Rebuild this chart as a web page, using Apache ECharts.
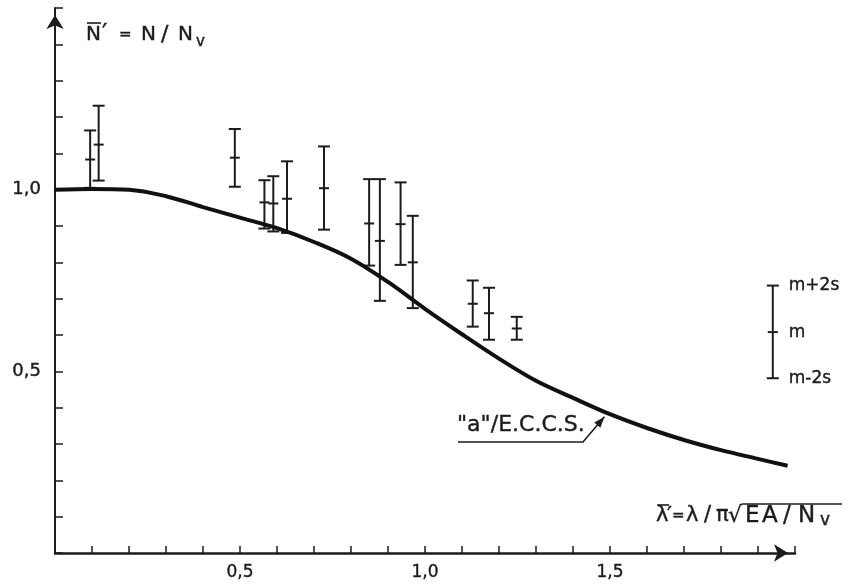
<!DOCTYPE html>
<html>
<head>
<meta charset="utf-8">
<script src="https://cdn.jsdelivr.net/npm/echarts@6/dist/echarts.min.js"></script>
<style>
html, body { margin: 0; padding: 0; background: #fff; }
#chart { width: 851px; height: 587px; }
</style>
</head>
<body>
<div id="chart"></div>
<script>
// curve "a"/E.C.C.S.
var curveX = [0, 0.1, 0.2, 0.3, 0.4, 0.5, 0.6, 0.7, 0.8, 0.9, 1.0, 1.1, 1.2, 1.3, 1.4, 1.5, 1.6, 1.7, 1.8, 1.9, 1.98];
var curveY = [1.0, 1.002, 1.0, 0.982, 0.952, 0.923, 0.894, 0.856, 0.81, 0.746, 0.672, 0.602, 0.535, 0.474, 0.427, 0.382, 0.344, 0.311, 0.283, 0.259, 0.240];

// test results: m-2s, m, m+2s
var barX    = [0.095, 0.118, 0.486, 0.566, 0.590, 0.627, 0.727, 0.849, 0.878, 0.934, 0.967, 1.129, 1.173, 1.248];
var barLow  = [1.005, 1.025, 1.008, 0.893, 0.885, 0.881, 0.890, 0.791, 0.694, 0.793, 0.674, 0.623, 0.587, 0.587];
var barMid  = [1.083, 1.124, 1.088, 0.965, 0.962, 0.975, 1.004, 0.907, 0.859, 0.905, 0.800, 0.686, 0.660, 0.618];
var barHigh = [1.163, 1.231, 1.167, 1.026, 1.037, 1.078, 1.119, 1.029, 1.029, 1.020, 0.928, 0.750, 0.730, 0.650];

// key on the right
var keyBar = [1.94, 0.481, 0.608, 0.736];
var keyLabels = ['m-2s', 'm', 'm+2s'];

var xTickLabels = {5: '0,5', 10: '1,0', 15: '1,5'};
var yTickLabels = {5: '0,5', 10: '1,0'};
var curveName = '"a"/E.C.C.S.';
var arrowAt = [1.485, 0.375];

var ink = '#1c1c1c';
var fontName = 'DejaVu Sans';

var chart = echarts.init(document.getElementById('chart'));

function tickFmt(map) {
    return function (v) { return map[Math.round(v * 10)] || ''; };
}

function barShape(api, labels) {
    var x = api.value(0);
    var lo = api.coord([x, api.value(1)]);
    var mi = api.coord([x, api.value(2)]);
    var hi = api.coord([x, api.value(3)]);
    var st = {stroke: ink, lineWidth: 2};
    function cap(p, w) {
        return {type: 'line', shape: {x1: p[0] - w, y1: p[1], x2: p[0] + w, y2: p[1]}, style: st};
    }
    var kids = [
        {type: 'line', shape: {x1: hi[0], y1: hi[1], x2: lo[0], y2: lo[1]}, style: st},
        cap(hi, 6), cap(mi, 5), cap(lo, 6)
    ];
    if (labels) {
        [lo, mi, hi].forEach(function (p, i) {
            kids.push({
                type: 'text', x: p[0] + 16, y: p[1],
                style: {text: labels[i], fill: ink, stroke: ink, lineWidth: 0.4, font: '17px "' + fontName + '"', align: 'left', verticalAlign: 'middle'}
            });
        });
    }
    return {type: 'group', children: kids};
}

var labelStyle = {color: ink, fontFamily: fontName, textBorderColor: ink, textBorderWidth: 0.4};

var option = {
    animation: false,
    backgroundColor: '#fff',
    grid: {left: 55, right: 56, top: 8, bottom: 34},
    xAxis: {
        type: 'value', min: 0, max: 2, interval: 0.1,
        splitLine: {show: false},
        axisLine: {lineStyle: {color: ink, width: 2.5}, symbol: ['none', 'arrow'], symbolSize: [13, 14], symbolOffset: [0, -7]},
        axisTick: {inside: true, length: 7, lineStyle: {color: ink, width: 1.5}},
        axisLabel: Object.assign({formatter: tickFmt(xTickLabels), fontSize: 17, margin: 11}, labelStyle)
    },
    yAxis: {
        type: 'value', min: 0, max: 1.5, interval: 0.1,
        splitLine: {show: false},
        axisLine: {lineStyle: {color: ink, width: 2}, symbol: ['none', 'arrow'], symbolSize: [13, 14], symbolOffset: [0, -7]},
        axisTick: {inside: true, length: 8, lineStyle: {color: ink, width: 1.5}},
        axisLabel: Object.assign({formatter: tickFmt(yTickLabels), fontSize: 18, margin: 14}, labelStyle)
    },
    series: [
        {
            type: 'custom',
            renderItem: function (params, api) { return barShape(api); },
            encode: {x: 0, y: [1, 2, 3]},
            data: barX.map(function (x, i) { return [x, barLow[i], barMid[i], barHigh[i]]; })
        },
        {
            type: 'custom',
            renderItem: function (params, api) { return barShape(api, keyLabels); },
            encode: {x: 0, y: [1, 2, 3]},
            data: [keyBar]
        },
        {
            name: curveName,
            type: 'line',
            smooth: 0.35,
            symbol: 'none',
            lineStyle: {color: '#111', width: 4},
            data: curveX.map(function (x, i) { return [x, curveY[i]]; })
        }
    ]
};
chart.setOption(option);

// axis titles and the curve label, laid out glyph by glyph
function txt(s, x, y, size) {
    return {type: 'text', x: x, y: y, style: {text: s, fill: ink, stroke: ink, lineWidth: 0.4, font: size + 'px "' + fontName + '"', align: 'left', verticalAlign: 'middle'}};
}
function bar(x1, x2, y, w) {
    return {type: 'line', shape: {x1: x1, y1: y, x2: x2, y2: y}, style: {stroke: ink, lineWidth: w || 1.6}};
}

var g = [];
// y title: N' = N/Nv
[['N', 86, 20], ['\u2032', 102, 24], ['=', 119, 15], ['N', 141, 20], ['/', 161, 22], ['N', 178, 20]].forEach(function (c) {
    g.push(txt(c[0], c[1], 35, c[2]));
});
g.push(txt('v', 196, 42, 15));
g.push(bar(87, 101, 23));

// x title: lambda' = lambda / pi sqrt(EA/Nv)
[['\u03bb', 656, 21], ['\u2032', 667, 22], ['=', 672, 15], ['\u03bb', 686, 21], ['/', 704, 21], ['\u03c0', 716, 21],
 ['\u221a', 728, 22], ['E', 745, 23], ['A', 762, 23], ['/', 783, 23], ['N', 798, 23]].forEach(function (c) {
    g.push(txt(c[0], c[1], 516, c[2]));
});
g.push(txt('v', 820, 521, 17));
g.push(bar(657, 669, 505));
g.push(bar(742, 842, 504));

// curve label with leader arrow
var tip = chart.convertToPixel({xAxisIndex: 0, yAxisIndex: 0}, arrowAt);
var bend = [583, 442];
g.push(txt(curveName, 457, 425, 22));
g.push({type: 'polyline', shape: {points: [[458, 442], bend, tip]}, style: {stroke: ink, lineWidth: 1.6, fill: null}});
var dx = tip[0] - bend[0], dy = tip[1] - bend[1], len = Math.sqrt(dx * dx + dy * dy);
var ux = dx / len, uy = dy / len;
var bx = tip[0] - ux * 11, by = tip[1] - uy * 11;
g.push({type: 'polygon', shape: {points: [tip, [bx - uy * 4, by + ux * 4], [bx + uy * 4, by - ux * 4]]}, style: {fill: ink}});

chart.setOption({graphic: g});

window.addEventListener('resize', function () {
    chart.resize();
});
</script>
</body>
</html>
